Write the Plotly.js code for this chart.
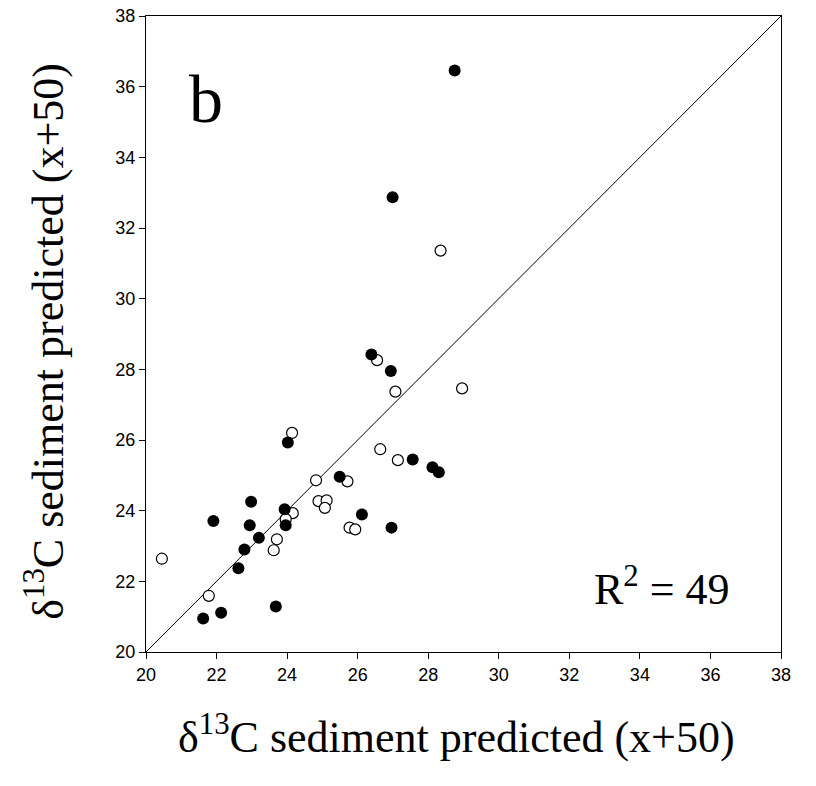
<!DOCTYPE html>
<html><head><meta charset="utf-8">
<script src="https://cdn.plot.ly/plotly-3.0.1.min.js"></script>
<style>body{margin:0;background:#fff}#c{width:816px;height:786px}</style>
</head><body><div id="c"></div>
<script>
const filledX = [28.75, 26.99, 26.39, 26.94, 24.02, 27.56, 28.12, 28.30, 25.49, 22.98, 21.91, 22.94, 23.93, 23.96, 26.12, 26.96, 23.20, 22.79, 22.62, 23.68, 22.13, 21.62];
const filledY = [36.46, 32.87, 28.42, 27.95, 25.93, 25.45, 25.23, 25.09, 24.96, 24.25, 23.71, 23.59, 24.04, 23.59, 23.89, 23.52, 23.23, 22.90, 22.37, 21.29, 21.11, 20.95];
const openX = [28.35, 26.55, 27.07, 28.96, 24.14, 26.64, 27.14, 24.82, 25.71, 24.89, 25.12, 25.07, 24.16, 23.96, 25.77, 25.93, 23.71, 23.62, 20.45, 21.78];
const openY = [31.36, 28.26, 27.37, 27.46, 26.20, 25.74, 25.43, 24.86, 24.83, 24.27, 24.29, 24.08, 23.93, 23.76, 23.52, 23.47, 23.19, 22.88, 22.64, 21.59];
const lineXY = [20, 38];
const tickVals = [20, 22, 24, 26, 28, 30, 32, 34, 36, 38];
const axisTitle = "δ<sup>13</sup>C sediment predicted (x+50)";
const panelLabel = "b";
const r2Label = "R<sup>2</sup> = 49";

const serif = 'Liberation Serif, Times New Roman, serif';
const traces = [
  {x: lineXY, y: lineXY, mode: 'lines', line: {color: '#000', width: 1}, hoverinfo: 'skip'},
  {x: openX, y: openY, mode: 'markers', marker: {symbol: 'circle', size: 11, color: '#fff', line: {color: '#000', width: 1.2}}},
  {x: filledX, y: filledY, mode: 'markers', marker: {symbol: 'circle', size: 12, color: '#000', line: {width: 0}}}
];
const axBase = {
  range: [20, 38], tickvals: tickVals, ticks: 'outside', ticklen: 6, tickwidth: 1, tickcolor: '#000',
  showline: true, linecolor: '#000', linewidth: 1, mirror: true, showgrid: false, zeroline: false,
  tickfont: {family: 'Liberation Sans, Arial, sans-serif', size: 18, color: '#000'}
};
const layout = {
  width: 816, height: 786, showlegend: false,
  paper_bgcolor: '#fff', plot_bgcolor: '#fff',
  margin: {l: 146, r: 35, t: 16, b: 134},
  xaxis: Object.assign({}, axBase),
  yaxis: Object.assign({}, axBase),
  annotations: [
    {text: axisTitle, xref: 'paper', yref: 'paper', x: 0.489, y: -0.13, showarrow: false, xanchor: 'center', yanchor: 'middle', font: {family: serif, size: 44, color: '#000'}},
    {text: axisTitle, xref: 'paper', yref: 'paper', x: -0.159, y: 0.488, textangle: -90, showarrow: false, xanchor: 'center', yanchor: 'middle', font: {family: serif, size: 44, color: '#000'}},
    {text: panelLabel, xref: 'x', yref: 'y', x: 21.15, y: 35.66, showarrow: false, xanchor: 'left', yanchor: 'middle', font: {family: serif, size: 68, color: '#000'}},
    {text: r2Label, xref: 'x', yref: 'y', x: 32.64, y: 21.85, showarrow: false, xanchor: 'left', yanchor: 'middle', font: {family: serif, size: 44, color: '#000'}}
  ]
};
Plotly.newPlot('c', traces, layout, {displayModeBar: false, staticPlot: true});
</script></body></html>
